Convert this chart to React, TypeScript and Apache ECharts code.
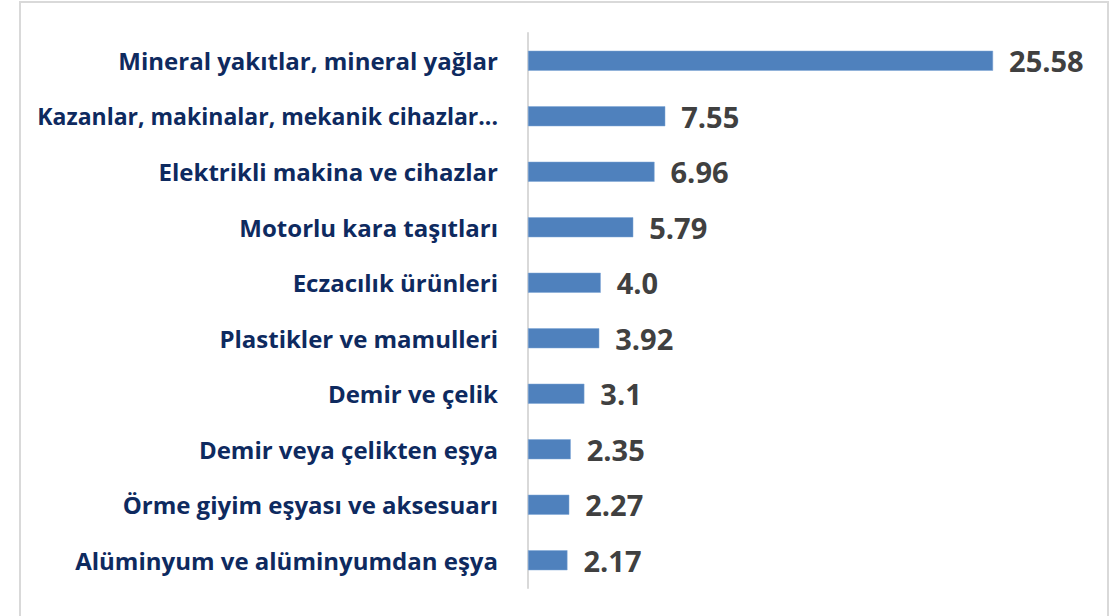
import React, { useEffect, useRef } from "react";
import * as echarts from "echarts";

const categories = [
  "Mineral yakıtlar, mineral yağlar",
  "Kazanlar, makinalar, mekanik cihazlar...",
  "Elektrikli makina ve cihazlar",
  "Motorlu kara taşıtları",
  "Eczacılık ürünleri",
  "Plastikler ve mamulleri",
  "Demir ve çelik",
  "Demir veya çelikten eşya",
  "Örme giyim eşyası ve aksesuarı",
  "Alüminyum ve alüminyumdan eşya",
];
const values = [25.58, 7.55, 6.96, 5.79, 4.0, 3.92, 3.1, 2.35, 2.27, 2.17];
const valueLabels = ["25.58", "7.55", "6.96", "5.79", "4.0", "3.92", "3.1", "2.35", "2.27", "2.17"];

export default function App() {
  const ref = useRef<HTMLDivElement>(null);
  useEffect(() => {
    if (!ref.current) return;
    const chart = echarts.init(ref.current, null, { renderer: "svg" });
    const catData = categories.map((c) =>
      c.endsWith("...") ? { value: c, textStyle: { fontSize: 23 } } : c
    );
    chart.setOption({
      animation: false,
      backgroundColor: "#ffffff",
      graphic: [
        {
          type: "rect",
          shape: { x: 20, y: 2, width: 1088, height: 700 },
          style: { fill: "none", stroke: "#d9d9d9", lineWidth: 2 },
          silent: true,
        },
      ],
      grid: { left: 528, top: 33, height: 555, width: 545.4 },
      xAxis: {
        type: "value",
        min: 0,
        max: 30,
        show: false,
      },
      yAxis: {
        type: "category",
        inverse: true,
        data: catData,
        axisLine: { show: true, lineStyle: { color: "#d9d9d9", width: 2 } },
        axisTick: { show: false },
        axisLabel: {
          margin: 30,
          color: "#0E2A5F",
          fontFamily: "Open Sans",
          fontWeight: "bold",
          fontSize: 24,
        },
      },
      series: [
        {
          type: "bar",
          data: values,
          barWidth: 20,
          itemStyle: { color: "#4F81BD", borderColor: "#7FA6D6", borderWidth: 0.5 },
          label: {
            show: true,
            position: "right",
            distance: 16,
            color: "#404040",
            fontFamily: "Open Sans",
            fontWeight: "bold",
            fontSize: 29,
            formatter: (p: any) => valueLabels[p.dataIndex],
          },
        },
      ],
    });
    return () => chart.dispose();
  }, []);
  return (
    <div
      ref={ref}
      style={{ position: "absolute", left: 0, top: 0, width: 1120, height: 616 }}
    />
  );
}
